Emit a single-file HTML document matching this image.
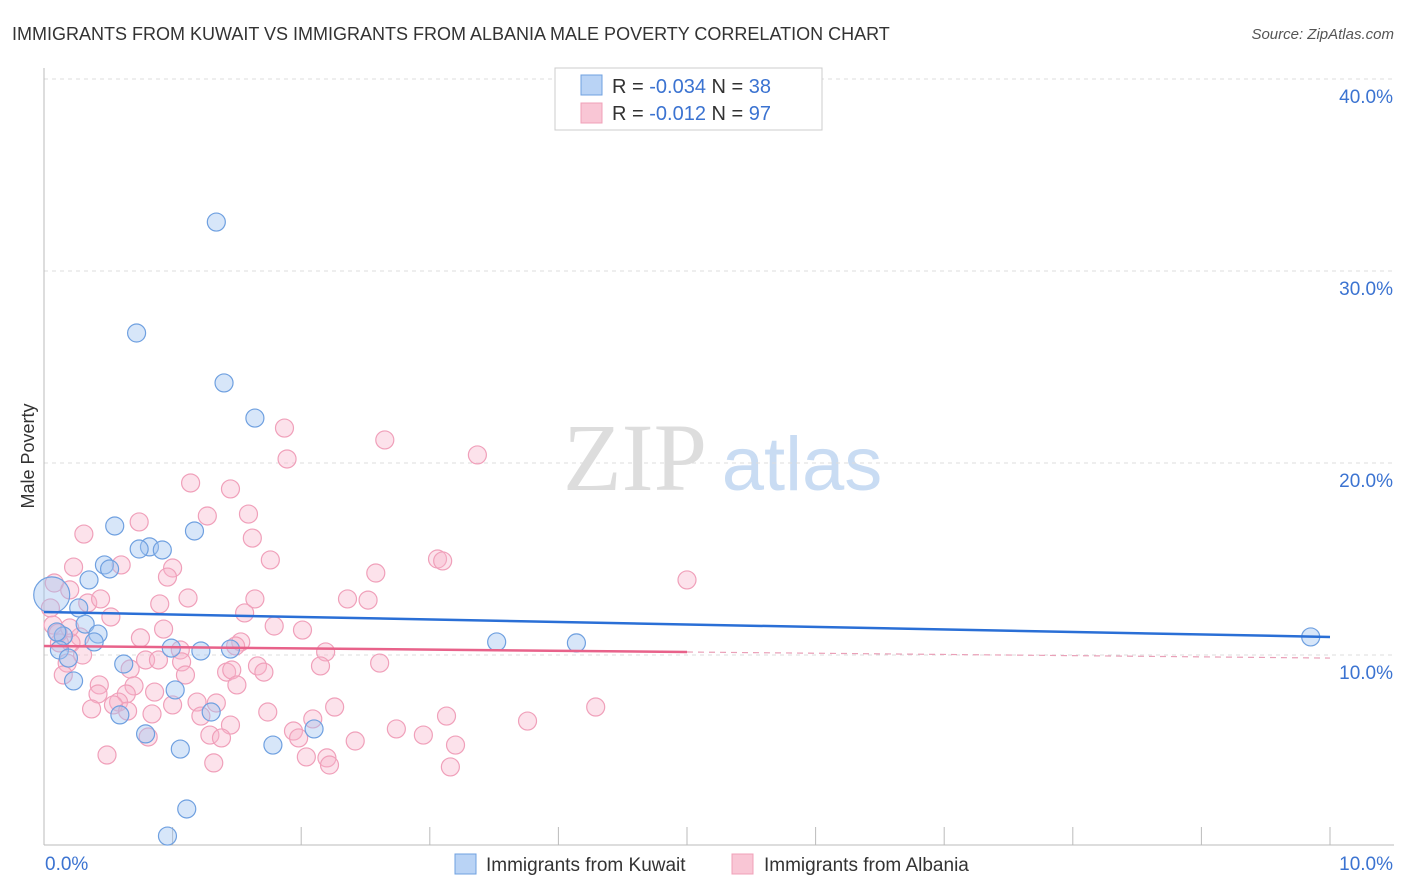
<!DOCTYPE html>
<html><head><meta charset="utf-8"><style>
body{margin:0;background:#fff;font-family:"Liberation Sans",sans-serif;}
svg{display:block}
</style></head><body>
<svg width="1406" height="892" viewBox="0 0 1406 892">
<text x="12" y="40" font-size="18" fill="#333">IMMIGRANTS FROM KUWAIT VS IMMIGRANTS FROM ALBANIA MALE POVERTY CORRELATION CHART</text>
<text x="1394" y="39" font-size="15" fill="#555" font-style="italic" text-anchor="end">Source: ZipAtlas.com</text>
<g>
<text x="635" y="490" font-size="96" font-family="Liberation Serif,serif" fill="#ddd" text-anchor="middle">ZIP</text>
<text x="802" y="490" font-size="76" fill="#c9dcf3" text-anchor="middle">atlas</text>
</g>
<g id="grid"></g>
<g id="axes"></g>
<g id="pts"></g>
<g id="trends"></g>
<text transform="translate(34,456) rotate(-90)" font-size="18" fill="#333" text-anchor="middle">Male Poverty</text>
<g>
<rect x="555" y="68" width="267" height="62" fill="#fff" stroke="#ccc"/>
<rect x="581" y="75" width="21" height="20" fill="#b9d3f5" stroke="#6fa0e0"/>
<rect x="581" y="103" width="21" height="20" fill="#f9c6d5" stroke="#f0a0b8"/>
<text x="612" y="93" font-size="20" fill="#333">R = <tspan fill="#3b73d1">-0.034</tspan>   N = <tspan fill="#3b73d1">38</tspan></text>
<text x="612" y="120" font-size="20" fill="#333">R =  <tspan fill="#3b73d1">-0.012</tspan>   N = <tspan fill="#3b73d1">97</tspan></text>
</g>
<g>
<rect x="455" y="854" width="21" height="20" fill="#b9d3f5" stroke="#6fa0e0"/>
<text x="486" y="871" font-size="19" fill="#333">Immigrants from Kuwait</text>
<rect x="732" y="854" width="21" height="20" fill="#f9c6d5" stroke="#f0a0b8"/>
<text x="764" y="871" font-size="19" fill="#333">Immigrants from Albania</text>
</g>
</svg>
<script>
const yTicks=[10,20,30,40];
const yTickLabels=["10.0%","20.0%","30.0%","40.0%"];
const xTickLabels=["0.0%","10.0%"];
const kuwaitX=[1.34,0.72,1.40,1.64,0.55,1.17,0.82,0.92,0.74,0.47,0.51,0.35,0.06,0.27,0.32,0.42,0.39,0.15,0.12,0.19,0.62,0.23,1.02,0.59,1.30,0.79,1.06,1.78,2.10,1.11,0.96,3.52,4.14,9.85,0.99,1.22,1.45,0.10];
const kuwaitY=[32.55,26.77,24.17,22.34,16.72,16.46,15.63,15.47,15.52,14.69,14.48,13.91,13.13,12.45,11.61,11.09,10.68,10.99,10.26,9.84,9.53,8.65,8.18,6.88,7.03,5.89,5.10,5.31,6.15,1.98,0.57,10.68,10.63,10.94,10.36,10.21,10.31,11.2];
const albaniaX=[1.87,1.89,2.65,3.37,1.14,1.45,1.27,1.59,0.74,0.31,1.62,3.06,3.10,1.76,0.23,0.60,1.00,0.96,2.58,5.00,0.08,0.20,0.34,1.12,0.90,1.64,2.36,2.52,1.56,0.52,0.93,1.79,2.01,0.75,1.53,0.28,0.21,1.49,0.12,1.06,2.19,0.30,0.79,0.89,2.61,0.67,1.07,1.66,1.71,2.15,0.18,0.15,1.10,1.42,1.46,0.43,1.50,0.70,0.86,0.42,0.64,0.58,1.19,1.34,0.37,0.54,0.65,0.84,1.74,1.00,2.26,1.22,3.13,4.29,3.76,2.09,1.45,1.94,2.74,2.95,1.98,1.29,1.38,0.81,2.42,3.20,2.04,2.20,2.22,0.49,1.32,3.16,0.05,0.07,0.44,0.11,0.20];
const albaniaY=[21.82,20.21,21.20,20.42,18.96,18.65,17.24,17.34,16.93,16.30,16.09,15.00,14.90,14.95,14.58,14.69,14.53,14.06,14.27,13.91,13.75,13.39,12.71,12.97,12.66,12.92,12.92,12.86,12.19,11.98,11.35,11.51,11.30,10.89,10.68,10.94,10.63,10.47,10.63,10.26,10.16,10.00,9.74,9.74,9.58,9.27,9.64,9.43,9.11,9.43,9.58,8.96,8.96,9.11,9.22,8.44,8.44,8.39,8.07,7.97,7.97,7.55,7.55,7.50,7.19,7.40,7.08,6.93,7.03,7.40,7.29,6.82,6.82,7.29,6.56,6.67,6.35,6.04,6.15,5.83,5.68,5.83,5.68,5.73,5.52,5.31,4.69,4.64,4.27,4.79,4.38,4.17,12.45,11.56,12.92,11.15,11.41];
const kuwaitTrend=[12.24,10.94];
const albaniaTrend=[10.47,9.84];
const X0=44,X1=1330,Y0=847,PY=19.2;
const sx=v=>X0+(X1-X0)*v/10, sy=v=>Y0-v*PY;
const NS="http://www.w3.org/2000/svg";
function mk(t,a,p){const e=document.createElementNS(NS,t);for(const k in a)e.setAttribute(k,a[k]);document.getElementById(p).appendChild(e);return e;}
yTicks.forEach((t,i)=>{
 const g=mk('line',{x1:44,x2:1394,y1:sy(t),y2:sy(t),stroke:'#ddd','stroke-dasharray':'4,4'},'grid');
 
 
 const l=mk('text',{x:1393,y:sy(t)+24,'font-size':19,fill:'#3b73d1','text-anchor':'end'},'grid');
 l.textContent=yTickLabels[i];
 
 
});
mk('line',{x1:44,x2:44,y1:68,y2:845,stroke:'#bbb'},'axes');
mk('line',{x1:44,x2:1394,y1:845,y2:845,stroke:'#bbb'},'axes');
for(let i=0;i<=10;i++){const t=mk('line',{x1:sx(i),x2:sx(i),y1:827,y2:845,stroke:'#bbb'},'axes');
 
 }
[[0,'start',45],[10,'end',1393]].forEach((d,i)=>{const l=mk('text',{x:d[2],y:870,'font-size':19,fill:'#3b73d1','text-anchor':d[1]},'axes');l.textContent=xTickLabels[i];
 
 });
albaniaX.forEach((x,i)=>{const c=mk('circle',{cx:sx(x),cy:sy(albaniaY[i]),r:9,fill:'rgba(248,180,202,0.38)',stroke:'#f0a0ba','stroke-width':1.2},'pts');
 
 });
kuwaitX.forEach((x,i)=>{const c=mk('circle',{cx:sx(x),cy:sy(kuwaitY[i]),r:i==12?18:9,fill:'rgba(160,196,240,0.42)',stroke:'#6fa0e0','stroke-width':1.2},'pts');
 
 });
const bl=mk('line',{x1:sx(0),x2:sx(10),y1:sy(kuwaitTrend[0]),y2:sy(kuwaitTrend[1]),stroke:'#2a6fd6','stroke-width':2.5},'trends');


const mid=albaniaTrend[0]+(albaniaTrend[1]-albaniaTrend[0])*0.5;
const pl=mk('line',{x1:sx(0),x2:sx(5),y1:sy(albaniaTrend[0]),y2:sy(mid),stroke:'#e8628a','stroke-width':2.5},'trends');


const pd=mk('line',{x1:sx(5),x2:sx(10),y1:sy(mid),y2:sy(albaniaTrend[1]),stroke:'#eaa0b8','stroke-width':1.2,'stroke-dasharray':'6,5'},'trends');


</script>
</body></html>
